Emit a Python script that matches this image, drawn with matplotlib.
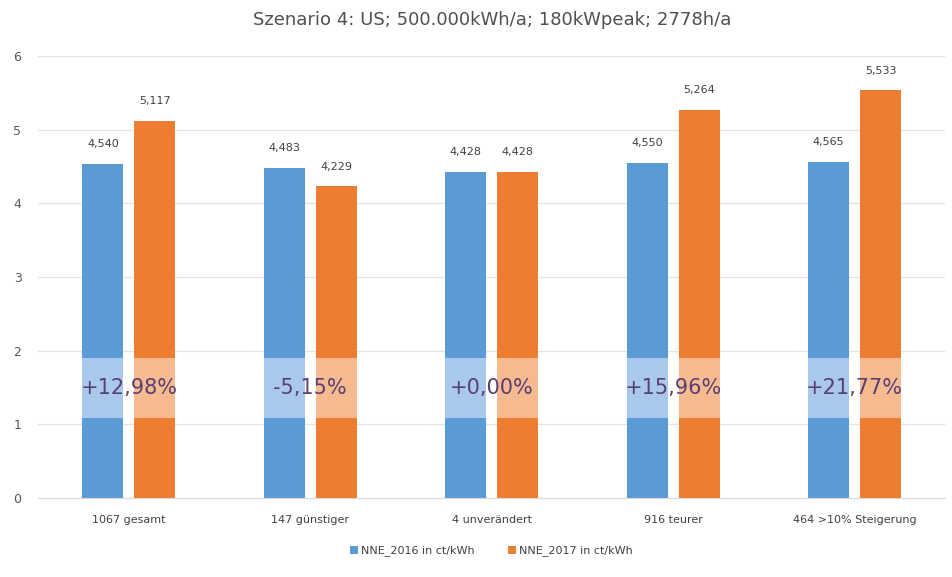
import numpy as np
import matplotlib.pyplot as plt

categories = ['1067 gesamt', '147 günstiger', '4 unverändert', '916 teurer', '464 >10% Steigerung']
nne_2016 = [4.540, 4.483, 4.428, 4.550, 4.565]
nne_2017 = [5.117, 4.229, 4.428, 5.264, 5.533]
changes = ['+12,98%', '-5,15%', '+0,00%', '+15,96%', '+21,77%']

blue = '#5B9BD5'
orange = '#ED7D31'
blue_light = '#A9C9EC'
orange_light = '#F6BA90'

fig = plt.figure(figsize=(9.53, 5.77), dpi=100)
ax = fig.add_axes([0.04, 0.137, 0.952, 0.766])

x = np.arange(len(categories))
w = 0.225
off = 0.143
ax.bar(x - off, nne_2016, w, color=blue, label='NNE_2016 in ct/kWh', zorder=2)
ax.bar(x + off, nne_2017, w, color=orange, label='NNE_2017 in ct/kWh', zorder=2)

# lighter band behind the percentage labels
band_lo, band_hi = 1.08, 1.90
ax.bar(x - off, band_hi - band_lo, w, bottom=band_lo, color=blue_light, zorder=3)
ax.bar(x + off, band_hi - band_lo, w, bottom=band_lo, color=orange_light, zorder=3)

fmt = lambda v: f'{v:.3f}'.replace('.', ',')
for i in range(len(categories)):
    ax.text(x[i] - off, nne_2016[i] + 0.2, fmt(nne_2016[i]), ha='center', va='bottom',
            fontsize=8, color='#404040')
    ax.text(x[i] + off, nne_2017[i] + 0.2, fmt(nne_2017[i]), ha='center', va='bottom',
            fontsize=8, color='#404040')
    ax.text(x[i], (band_lo + band_hi) / 2, changes[i], ha='center', va='center',
            fontsize=15, color='#5B3F72', zorder=4)

ax.set_xlim(-0.5, len(categories) - 0.5)
ax.set_ylim(0, 6)
ax.set_yticks(range(7))
ax.set_xticks(x)
ax.set_xticklabels(categories, fontsize=8, color='#404040')
ax.tick_params(axis='y', labelsize=9, labelcolor='#595959', length=0, pad=12)
ax.tick_params(axis='x', length=0, pad=12)
ax.grid(axis='y', color='#E3E3E3', linewidth=0.9, zorder=0)
for s in ['top', 'right', 'left']:
    ax.spines[s].set_visible(False)
ax.spines['bottom'].set_color('#D9D9D9')

ax.set_title('Szenario 4: US; 500.000kWh/a; 180kWpeak; 2778h/a', fontsize=13,
             color='#505050', pad=22)
ax.legend(loc='upper center', bbox_to_anchor=(0.5, -0.085), ncol=2, frameon=False,
          fontsize=8, handlelength=0.7, handleheight=0.7, columnspacing=3, handletextpad=0.3,
          labelcolor='#404040')

fig.savefig('out.png', dpi=100)
